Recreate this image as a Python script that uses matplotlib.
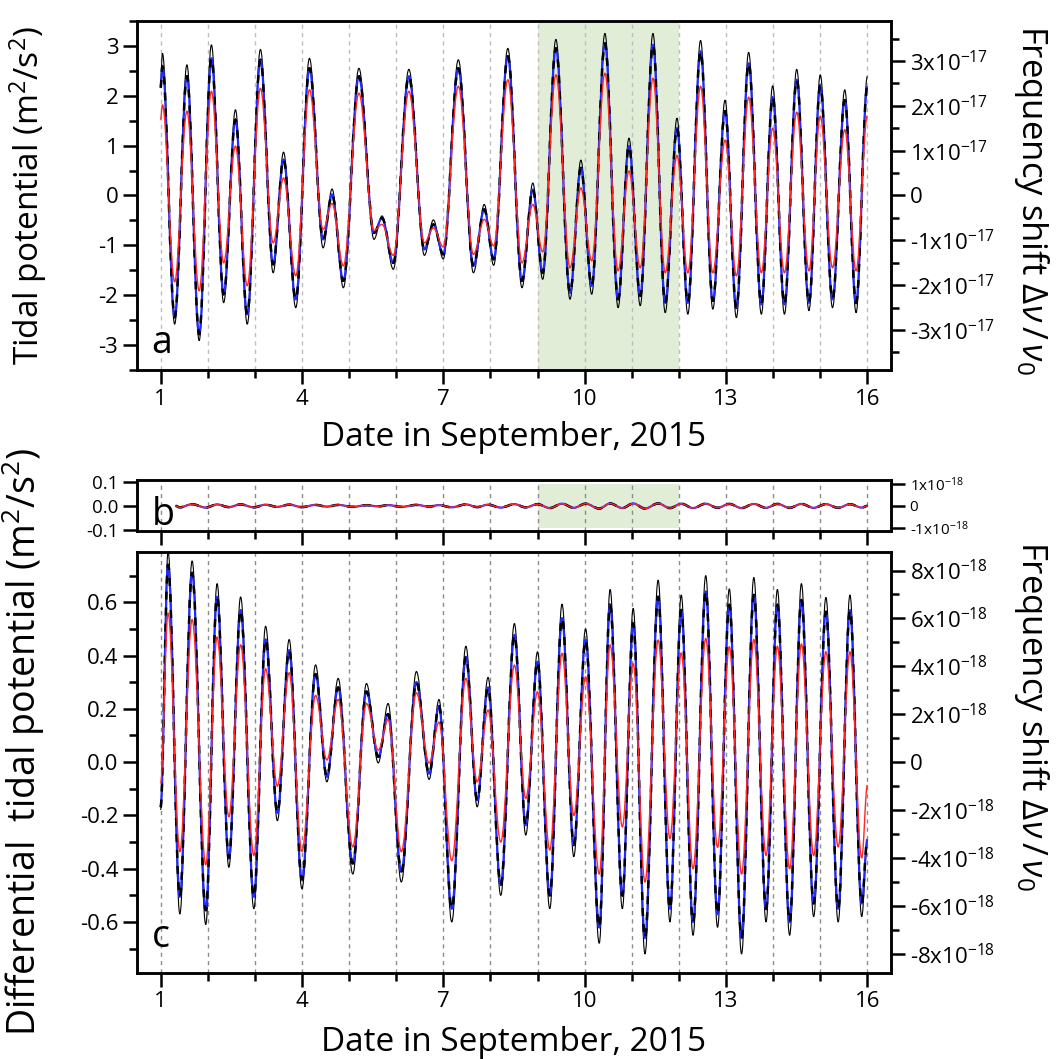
import matplotlib
matplotlib.use('Agg')
import matplotlib.pyplot as plt
from matplotlib.path import Path
from matplotlib.patches import PathPatch
from matplotlib.ticker import MultipleLocator, FixedLocator, FuncFormatter

plt.rcParams['font.family'] = ['Open Sans', 'DejaVu Sans']
plt.rcParams['mathtext.fontset'] = 'custom'
plt.rcParams['mathtext.rm'] = 'Open Sans'
plt.rcParams['mathtext.it'] = 'Open Sans:italic'
plt.rcParams['axes.unicode_minus'] = False

C2 = 299792458.0 ** 2   # frequency shift = potential / c^2

# ---- data: turning points (day of September, value) ----
day_ticks = [1, 4, 7, 10, 13, 16]
highlight = [9, 12]

# panel a, tidal potential (m^2/s^2)
t_a = [1.00, 1.04, 1.30, 1.56, 1.82, 2.08, 2.34, 2.59, 2.84, 3.12,
       3.39, 3.61, 3.87, 4.16, 4.45, 4.64, 4.88, 5.21, 5.53, 5.70,
       5.94, 6.27, 6.60, 6.79, 7.00, 7.32, 7.64, 7.87, 8.07, 8.37,
       8.67, 8.90, 9.11, 9.39, 9.69, 9.92, 10.15, 10.43, 10.71, 10.94,
       11.18, 11.45, 11.71, 11.96, 12.19, 12.46, 12.72, 12.98, 13.22, 13.48,
       13.75, 13.99, 14.24, 14.50, 14.76, 15.00, 15.26, 15.52, 15.76, 16.00]
a_black = [2.25, 2.85, -2.58, 2.62, -2.91, 3.02, -2.15, 1.72, -2.58, 2.93,
           -1.55, 0.87, -2.25, 2.75, -1.05, 0.13, -1.85, 2.55, -0.88, -0.41,
           -1.48, 2.53, -1.20, -0.49, -1.27, 2.72, -1.55, -0.18, -1.40, 2.95,
           -1.85, 0.25, -1.68, 3.13, -2.08, 0.71, -1.98, 3.25, -2.25, 1.15,
           -2.21, 3.25, -2.35, 1.55, -2.38, 3.11, -2.28, 1.91, -2.45, 2.87,
           -2.38, 2.20, -2.38, 2.53, -2.31, 2.42, -2.25, 2.12, -2.35, 2.39]
a_blue = [2.16, 2.59, -2.44, 2.39, -2.78, 2.75, -1.98, 1.52, -2.38, 2.72,
          -1.38, 0.72, -2.08, 2.55, -0.88, 0.02, -1.71, 2.39, -0.75, -0.45,
          -1.35, 2.39, -1.08, -0.58, -1.18, 2.55, -1.41, -0.28, -1.28, 2.79,
          -1.71, 0.12, -1.55, 2.95, -1.95, 0.55, -1.81, 3.05, -2.08, 0.99,
          -2.01, 3.02, -2.15, 1.35, -2.15, 2.89, -2.11, 1.69, -2.25, 2.65,
          -2.18, 1.97, -2.18, 2.32, -2.15, 2.20, -2.08, 1.91, -2.15, 2.19]
a_red = [1.52, 1.82, -1.73, 1.69, -1.91, 2.09, -1.35, 0.99, -1.81, 2.15,
         -0.95, 0.35, -1.61, 2.12, -0.68, -0.16, -1.41, 2.05, -0.70, -0.58,
         -1.20, 2.09, -0.95, -0.65, -1.03, 2.19, -1.18, -0.48, -1.01, 2.32,
         -1.35, -0.18, -1.13, 2.42, -1.45, 0.15, -1.31, 2.45, -1.51, 0.49,
         -1.45, 2.35, -1.55, 0.80, -1.55, 2.19, -1.55, 1.11, -1.61, 1.97,
         -1.55, 1.35, -1.55, 1.67, -1.51, 1.59, -1.45, 1.32, -1.51, 1.60]

# panel b, differential potential at small scale
t_b = [1.32, 1.41, 1.67, 1.96, 2.20, 2.45, 2.70, 2.98, 3.23, 3.48,
       3.73, 4.00, 4.29, 4.53, 4.77, 5.08, 5.37, 5.62, 5.83, 6.11,
       6.43, 6.70, 6.91, 7.18, 7.48, 7.72, 7.95, 8.22, 8.51, 8.75,
       9.00, 9.26, 9.52, 9.77, 10.02, 10.31, 10.54, 10.80, 11.03, 11.28,
       11.56, 11.81, 12.05, 12.30, 12.57, 12.82, 13.07, 13.33, 13.59, 13.85,
       14.09, 14.35, 14.60, 14.86, 15.12, 15.38, 15.63, 15.88, 16.00]
b_vals = [0.0, -0.006, 0.007, -0.007, 0.006, -0.005, 0.006, -0.006, 0.005, -0.004,
          0.005, -0.005, 0.004, -0.003, 0.004, -0.004, 0.003, -0.002, 0.003, -0.004,
          0.004, -0.003, 0.003, -0.006, 0.006, -0.005, 0.005, -0.007, 0.007, -0.006,
          0.007, -0.009, 0.009, -0.008, 0.009, -0.011, 0.010, -0.009, 0.010, -0.011,
          0.010, -0.009, 0.009, -0.009, 0.009, -0.008, 0.008, -0.009, 0.008, -0.008,
          0.008, -0.008, 0.008, -0.008, 0.007, -0.008, 0.007, -0.007, 0.0]

# panel c, differential tidal potential (m^2/s^2)
t_c = [1.00, 1.16, 1.41, 1.67, 1.96, 2.20, 2.45, 2.70, 2.98, 3.23,
       3.48, 3.73, 4.00, 4.29, 4.53, 4.77, 5.08, 5.37, 5.62, 5.83,
       6.11, 6.43, 6.70, 6.91, 7.18, 7.48, 7.72, 7.95, 8.22, 8.51,
       8.75, 9.00, 9.26, 9.52, 9.77, 10.02, 10.31, 10.54, 10.80, 11.03,
       11.28, 11.56, 11.81, 12.05, 12.30, 12.57, 12.82, 13.07, 13.33, 13.59,
       13.85, 14.09, 14.35, 14.60, 14.86, 15.12, 15.38, 15.63, 15.88, 16.00]
c_black = [-0.18, 0.79, -0.57, 0.755, -0.61, 0.67, -0.395, 0.62, -0.55, 0.51,
           -0.22, 0.46, -0.475, 0.365, -0.074, 0.314, -0.42, 0.295, -0.003, 0.22,
           -0.45, 0.34, -0.065, 0.235, -0.60, 0.435, -0.168, 0.318, -0.50, 0.52,
           -0.274, 0.414, -0.55, 0.593, -0.355, 0.50, -0.68, 0.648, -0.55, 0.577,
           -0.72, 0.683, -0.60, 0.627, -0.65, 0.70, -0.62, 0.65, -0.72, 0.693,
           -0.60, 0.648, -0.65, 0.67, -0.58, 0.618, -0.60, 0.627, -0.58, -0.30]
c_blue = [-0.17, 0.74, -0.505, 0.71, -0.555, 0.62, -0.36, 0.57, -0.505, 0.46,
          -0.19, 0.42, -0.44, 0.33, -0.055, 0.28, -0.38, 0.265, 0.02, 0.18,
          -0.41, 0.30, -0.043, 0.21, -0.55, 0.395, -0.143, 0.28, -0.46, 0.477,
          -0.236, 0.376, -0.50, 0.54, -0.31, 0.458, -0.62, 0.59, -0.50, 0.52,
          -0.66, 0.62, -0.55, 0.57, -0.60, 0.64, -0.57, 0.59, -0.66, 0.627,
          -0.55, 0.59, -0.60, 0.608, -0.53, 0.564, -0.55, 0.57, -0.53, -0.29]
c_red = [-0.08, 0.56, -0.336, 0.535, -0.385, 0.47, -0.205, 0.44, -0.35, 0.35,
         -0.09, 0.335, -0.335, 0.25, 0.008, 0.235, -0.318, 0.22, 0.045, 0.16,
         -0.336, 0.26, -0.003, 0.15, -0.37, 0.314, -0.074, 0.195, -0.30, 0.364,
         -0.136, 0.264, -0.33, 0.408, -0.20, 0.32, -0.42, 0.44, -0.243, 0.37,
         -0.45, 0.458, -0.287, 0.41, -0.40, 0.464, -0.32, 0.433, -0.42, 0.46,
         -0.35, 0.435, -0.40, 0.443, -0.35, 0.414, -0.318, 0.414, -0.36, -0.086]

GREEN = '#e1edd6'
TICK_FS = 16
LABEL_FS = 24
FREQ_LABEL = 'Frequency shift $\\mathit{\\Delta\\nu}\\,/\\,\\mathit{\\nu}_0$'


def wave(ax, t, v, **kw):
    # smooth curve through the turning points (flat tangent at each one)
    verts = [(t[0], v[0])]
    codes = [Path.MOVETO]
    for i in range(len(t) - 1):
        dt = t[i + 1] - t[i]
        verts += [(t[i] + 0.36 * dt, v[i]), (t[i + 1] - 0.36 * dt, v[i + 1]), (t[i + 1], v[i + 1])]
        codes += [Path.CURVE4] * 3
    ax.add_patch(PathPatch(Path(verts, codes), fill=False, **kw))


def three_curves(ax, t, black, blue, red):
    wave(ax, t, black, edgecolor='black', lw=0.8, zorder=3)
    wave(ax, t, blue, edgecolor='#1f2bff', lw=1.6, zorder=4)
    wave(ax, t, blue, edgecolor='black', lw=1.8, ls=(0, (3.2, 3.2)), zorder=5)
    wave(ax, t, red, edgecolor='#ff2626', lw=1.0, zorder=6)


def style(ax, lo, hi, major, minor, grid_color, fs=TICK_FS):
    ax.set_xlim(0.5, 16.5)
    ax.set_ylim(lo, hi)
    ax.xaxis.set_major_locator(FixedLocator(day_ticks))
    ax.xaxis.set_minor_locator(MultipleLocator(1))
    ax.yaxis.set_major_locator(MultipleLocator(major))
    if minor:
        ax.yaxis.set_minor_locator(MultipleLocator(minor))
    ax.tick_params(which='major', direction='out', length=10, width=1.8, labelsize=fs)
    ax.tick_params(axis='x', labelsize=TICK_FS)
    ax.tick_params(which='minor', direction='out', length=6, width=1.8)
    for s in ax.spines.values():
        s.set_linewidth(1.8)
    for d in range(1, 17):
        ax.axvline(d, color=grid_color, lw=1.0, ls=(0, (3, 3)), zorder=1)


def right_axis(ax, major, minor, exp, fs=TICK_FS):
    r = ax.twinx()
    lo, hi = ax.get_ylim()
    r.set_ylim(lo / C2, hi / C2)
    r.yaxis.set_major_locator(MultipleLocator(major))
    if minor:
        r.yaxis.set_minor_locator(MultipleLocator(minor))

    def fmt(v, pos):
        m = int(round(v / 10.0 ** exp))
        if m == 0:
            return '0'
        return '%dx10$^{%d}$' % (m, exp)

    r.yaxis.set_major_formatter(FuncFormatter(fmt))
    r.tick_params(which='major', direction='out', length=10, width=1.8, labelsize=fs)
    r.tick_params(which='minor', direction='out', length=6, width=1.8)
    for s in r.spines.values():
        s.set_linewidth(1.8)
    return r


fig = plt.figure(figsize=(10.56, 10.59), dpi=100)
ax_a = fig.add_axes([0.1297, 0.6506, 0.714, 0.3296])
ax_b = fig.add_axes([0.1297, 0.4983, 0.714, 0.048])
ax_c = fig.add_axes([0.1297, 0.0816, 0.714, 0.3975])

# Panel a
ax_a.axvspan(highlight[0], highlight[1], color=GREEN, lw=0, zorder=0)
style(ax_a, -3.5, 3.5, 1, 0.5, '#bdbdbd')
three_curves(ax_a, t_a, a_black, a_blue, a_red)
ax_a.set_xlabel('Date in September, 2015', fontsize=LABEL_FS, labelpad=8)
ax_a.text(0.019, 0.05, 'a', transform=ax_a.transAxes, fontsize=27, zorder=7)
right_axis(ax_a, 1e-17, 0.5e-17, -17)

# Panel b
ax_b.fill_between(highlight, -0.09, 0.09, color=GREEN, lw=0, zorder=0)
style(ax_b, -0.105, 0.105, 0.1, None, '#8c8c8c', fs=13.5)
ax_b.tick_params(axis='x', labelbottom=False)
ax_b.yaxis.set_major_formatter(FuncFormatter(lambda v, p: '%.1f' % v))
three_curves(ax_b, t_b, b_vals, b_vals, b_vals)
ax_b.text(0.02, 0.12, 'b', transform=ax_b.transAxes, fontsize=27, zorder=7)
right_axis(ax_b, 1e-18, None, -18, fs=11)

# Panel c
style(ax_c, -0.79, 0.79, 0.2, 0.1, '#8c8c8c')
ax_c.yaxis.set_major_formatter(FuncFormatter(lambda v, p: '%.1f' % v))
three_curves(ax_c, t_c, c_black, c_blue, c_red)
ax_c.set_xlabel('Date in September, 2015', fontsize=LABEL_FS, labelpad=10)
ax_c.text(0.02, 0.06, 'c', transform=ax_c.transAxes, fontsize=27, zorder=7)
right_axis(ax_c, 2e-18, 1e-18, -18)

# axis titles
fig.text(0.027, 0.815, 'Tidal potential (m$^2$/s$^2$)', rotation=90,
         ha='center', va='center', fontsize=LABEL_FS)
fig.text(0.022, 0.30, 'Differential  tidal potential (m$^2$/s$^2$)', rotation=90,
         ha='center', va='center', fontsize=27)
fig.text(0.977, 0.811, FREQ_LABEL, rotation=270, ha='center', va='center', fontsize=25)
fig.text(0.977, 0.324, FREQ_LABEL, rotation=270, ha='center', va='center', fontsize=25)

fig.savefig('out.png', dpi=100)
